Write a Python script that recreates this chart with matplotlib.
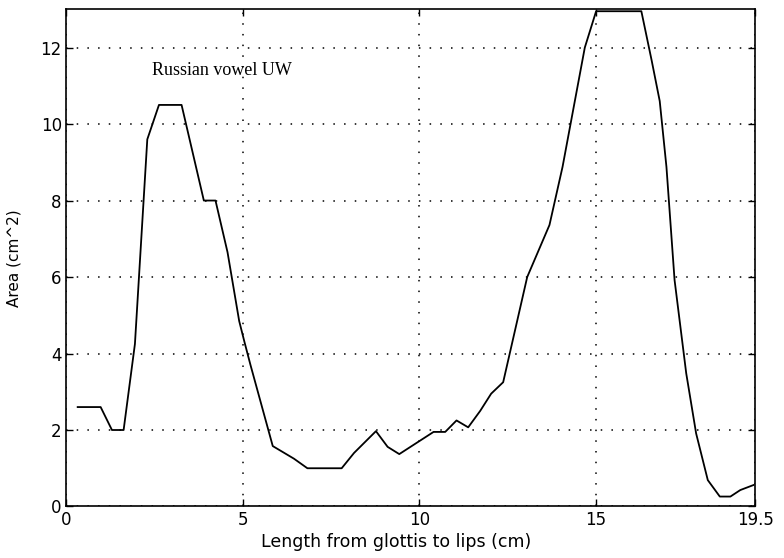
import matplotlib.pyplot as plt

# vocal tract area function, glottis -> lips
length_cm = [0.33, 0.98, 1.3, 1.63, 1.95, 2.3, 2.63, 3.27, 3.9, 4.23, 4.57, 4.9,
             5.05, 5.22, 5.85, 6.45, 6.83, 7.8, 8.15, 8.77, 9.1, 9.43, 10.4,
             10.73, 11.05, 11.38, 11.72, 12.03, 12.37, 13.05, 13.68, 14.05, 14.68,
             15.0, 16.28, 16.57, 16.8, 16.99, 17.22, 17.55, 17.83, 18.16, 18.5,
             18.8, 19.08, 19.45]
area_cm2 = [2.6, 2.6, 2.0, 2.0, 4.25, 9.6, 10.5, 10.5, 8.0, 8.0, 6.65, 4.85,
            4.3, 3.7, 1.58, 1.25, 1.0, 1.0, 1.4, 1.97, 1.56, 1.37, 1.95,
            1.95, 2.25, 2.07, 2.5, 2.95, 3.25, 6.0, 7.36, 8.88, 12.0,
            12.95, 12.95, 11.67, 10.6, 8.88, 5.92, 3.48, 1.91, 0.69, 0.26,
            0.26, 0.43, 0.56]

xticks = [0, 5, 10, 15, 19.5]
xticklabels = ['0', '5', '10', '15', '19.5']
yticks = [0, 2, 4, 6, 8, 10, 12]

plt.rcParams['font.family'] = ['DejaVu Sans']

fig = plt.figure(figsize=(7.84, 5.58), dpi=100)
ax = fig.add_axes([0.0842, 0.0923, 0.879, 0.891])

ax.plot(length_cm, area_cm2, color='black', linewidth=1.3)

ax.set_xlim(0, 19.5)
ax.set_ylim(0, 13)
ax.set_xticks(xticks)
ax.set_xticklabels(xticklabels)
ax.set_yticks(yticks)
ax.tick_params(direction='in', length=5, width=1, labelsize=12, top=True, right=True,
               colors='black', pad=3)
ax.grid(True, color='black', linestyle=(0, (1, 6)), linewidth=1.1)
for s in ax.spines.values():
    s.set_linewidth(1.2)

ax.text(2.43, 11.4, 'Russian vowel UW', fontsize=13, family=['Liberation Serif'],
        va='center', ha='left')

ax.set_xlabel('Length from glottis to lips (cm)', fontsize=12.5)
ax.xaxis.set_label_coords(0.479, -0.054)
ax.set_ylabel('Area (cm^2)', fontsize=11, labelpad=14)

fig.savefig('out.png', dpi=100)
